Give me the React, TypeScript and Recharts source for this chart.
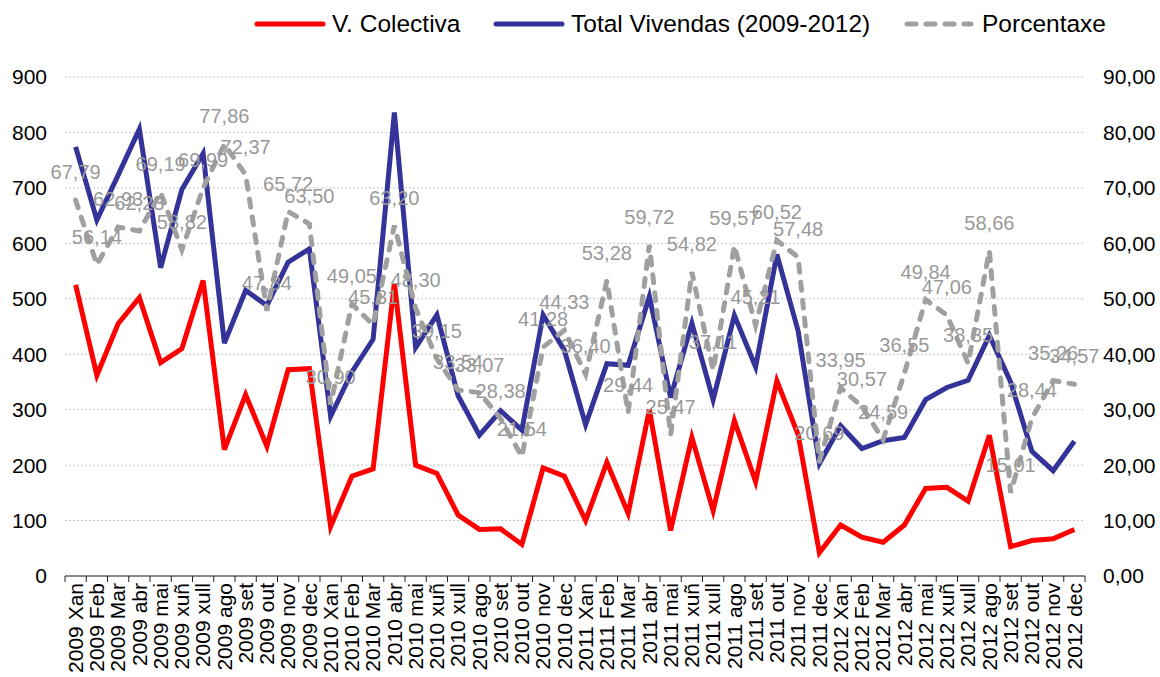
import { LineChart, Line, XAxis, YAxis, CartesianGrid, LabelList } from 'recharts';

const years = ['2009', '2010', '2011', '2012'];
const monthNames = ['Xan', 'Feb', 'Mar', 'abr', 'mai', 'xuñ', 'xull', 'ago', 'set', 'out', 'nov', 'dec'];
const categories = years.flatMap((y) => monthNames.map((m) => `${y} ${m}`));

const colectiva = [
  525, 362, 455, 502, 385, 410, 533, 228, 327, 234, 372, 374,
  89, 180, 193, 528, 200, 185, 110, 84, 85, 57, 195, 180,
  100, 205, 113, 300, 82, 250, 118, 280, 170, 352, 255, 42,
  92, 70, 61, 92, 158, 160, 135, 254, 53, 64, 67, 84,
];

const totalVivendas = [
  774, 642, 723, 806, 556, 697, 762, 420, 515, 488, 566, 590,
  288, 368, 427, 836, 412, 471, 325, 254, 298, 263, 471, 407,
  273, 383, 380, 504, 322, 456, 318, 470, 377, 580, 442, 203,
  271, 230, 244, 250, 318, 340, 353, 434, 350, 225, 190, 243,
];

const porcentaxe = [
  67.79, 56.14, 62.93, 62.23, 69.19, 58.82, 69.99, 77.86, 72.37, 47.84, 65.72, 63.5,
  30.9, 49.05, 45.31, 63.2, 48.3, 39.15, 33.54, 33.07, 28.38, 21.54, 41.28, 44.33,
  36.4, 53.28, 29.44, 59.72, 25.47, 54.82, 37.11, 59.57, 45.21, 60.52, 57.48, 20.69,
  33.95, 30.57, 24.59, 36.55, 49.84, 47.06, 38.35, 58.66, 15.01, 28.44, 35.26, 34.57,
];

const leftTicks = [0, 100, 200, 300, 400, 500, 600, 700, 800, 900];
const rightTicks = [0, 10, 20, 30, 40, 50, 60, 70, 80, 90];

const data = categories.map((month, i) => ({
  month,
  colectiva: colectiva[i],
  total: totalVivendas[i],
  pct: porcentaxe[i],
}));

const W = 1160;
const H = 677;
const LEFT_W = 65;
const RIGHT_W = 75;
const HALF_BAND = (W - LEFT_W - RIGHT_W) / categories.length / 2;
const FONT = '"Liberation Sans", Arial, sans-serif';
const GREY = '#a0a0a0';

const comma = (v: number, d = 2) => v.toFixed(d).replace('.', ',');

const MonthTick = (props: any) => {
  const { x, y, payload } = props;
  const idx = props.index ?? payload.index;
  return (
    <g>
      <line x1={x - HALF_BAND} x2={x - HALF_BAND} y1={y} y2={y + 6} stroke="#222" />
      {idx === categories.length - 1 && (
        <line x1={x + HALF_BAND} x2={x + HALF_BAND} y1={y} y2={y + 6} stroke="#222" />
      )}
      <text
        transform={`translate(${x},${y + 7}) rotate(-90)`}
        textAnchor="end"
        dy="0.35em"
        fontSize={21}
        fill="#000"
      >
        {payload.value}
      </text>
    </g>
  );
};

const PctLabel = (props: any) => {
  const { x, y, value } = props;
  return (
    <text x={x} y={y - 28} dy="0.35em" textAnchor="middle" fontSize={20} fill="#999999">
      {comma(Number(value))}
    </text>
  );
};

const LegendLine = ({ color, left, dashed }: { color: string; left: number; dashed?: boolean }) => (
  <svg width={72} height={10} style={{ position: 'absolute', left, top: 19 }}>
    <line
      x1={dashed ? 4 : 3}
      x2={dashed ? 68 : 69}
      y1={5}
      y2={5}
      stroke={color}
      strokeWidth={5}
      strokeLinecap="round"
      strokeDasharray={dashed ? '9 10' : undefined}
    />
  </svg>
);

const legendText = (left: number): any => ({
  position: 'absolute',
  left,
  top: 10,
  lineHeight: '28px',
  fontSize: 24.5,
  color: '#000',
  whiteSpace: 'nowrap',
});

export default function App() {
  return (
    <div style={{ position: 'absolute', left: 0, top: 0, width: W, height: H, fontFamily: FONT, background: '#fff' }}>
      <LegendLine color="#ff0000" left={254} />
      <span style={legendText(332)}>V. Colectiva</span>
      <LegendLine color="#333399" left={493} />
      <span style={legendText(571)}>Total Vivendas (2009-2012)</span>
      <LegendLine color={GREY} left={903} dashed />
      <span style={legendText(982)}>Porcentaxe</span>
      <LineChart width={W} height={H} data={data} margin={{ top: 77, right: 0, left: 0, bottom: 0 }}>
        <CartesianGrid yAxisId="left" vertical={false} stroke="#c4c4c4" strokeDasharray="2 2" />
        <XAxis
          dataKey="month"
          scale="band"
          interval={0}
          height={101}
          tickLine={false}
          tickSize={0}
          tickMargin={0}
          axisLine={{ stroke: '#222' }}
          tick={<MonthTick />}
        />
        <YAxis
          yAxisId="left"
          domain={[0, 900]}
          ticks={leftTicks}
          width={LEFT_W}
          axisLine={false}
          tickLine={false}
          tickSize={0}
          tickMargin={18}
          tick={{ fontSize: 21, fill: '#000' }}
        />
        <YAxis
          yAxisId="right"
          orientation="right"
          domain={[0, 90]}
          ticks={rightTicks}
          width={RIGHT_W}
          axisLine={false}
          tickLine={false}
          tickSize={0}
          tickMargin={18}
          tick={{ fontSize: 21, fill: '#000', textAnchor: 'start' }}
          tickFormatter={(v: number) => comma(v)}
        />
        <Line
          yAxisId="right"
          dataKey="pct"
          stroke="none"
          dot={false}
          activeDot={false}
          isAnimationActive={false}
        >
          <LabelList dataKey="pct" content={<PctLabel />} />
        </Line>
        <Line
          yAxisId="left"
          dataKey="colectiva"
          stroke="#ff0000"
          strokeWidth={5}
          dot={false}
          isAnimationActive={false}
        />
        <Line
          yAxisId="left"
          dataKey="total"
          stroke="#333399"
          strokeWidth={5}
          dot={false}
          isAnimationActive={false}
        />
        <Line
          yAxisId="right"
          dataKey="pct"
          stroke={GREY}
          strokeWidth={5}
          strokeDasharray="8 10"
          strokeLinecap="round"
          dot={false}
          isAnimationActive={false}
        />
      </LineChart>
    </div>
  );
}
